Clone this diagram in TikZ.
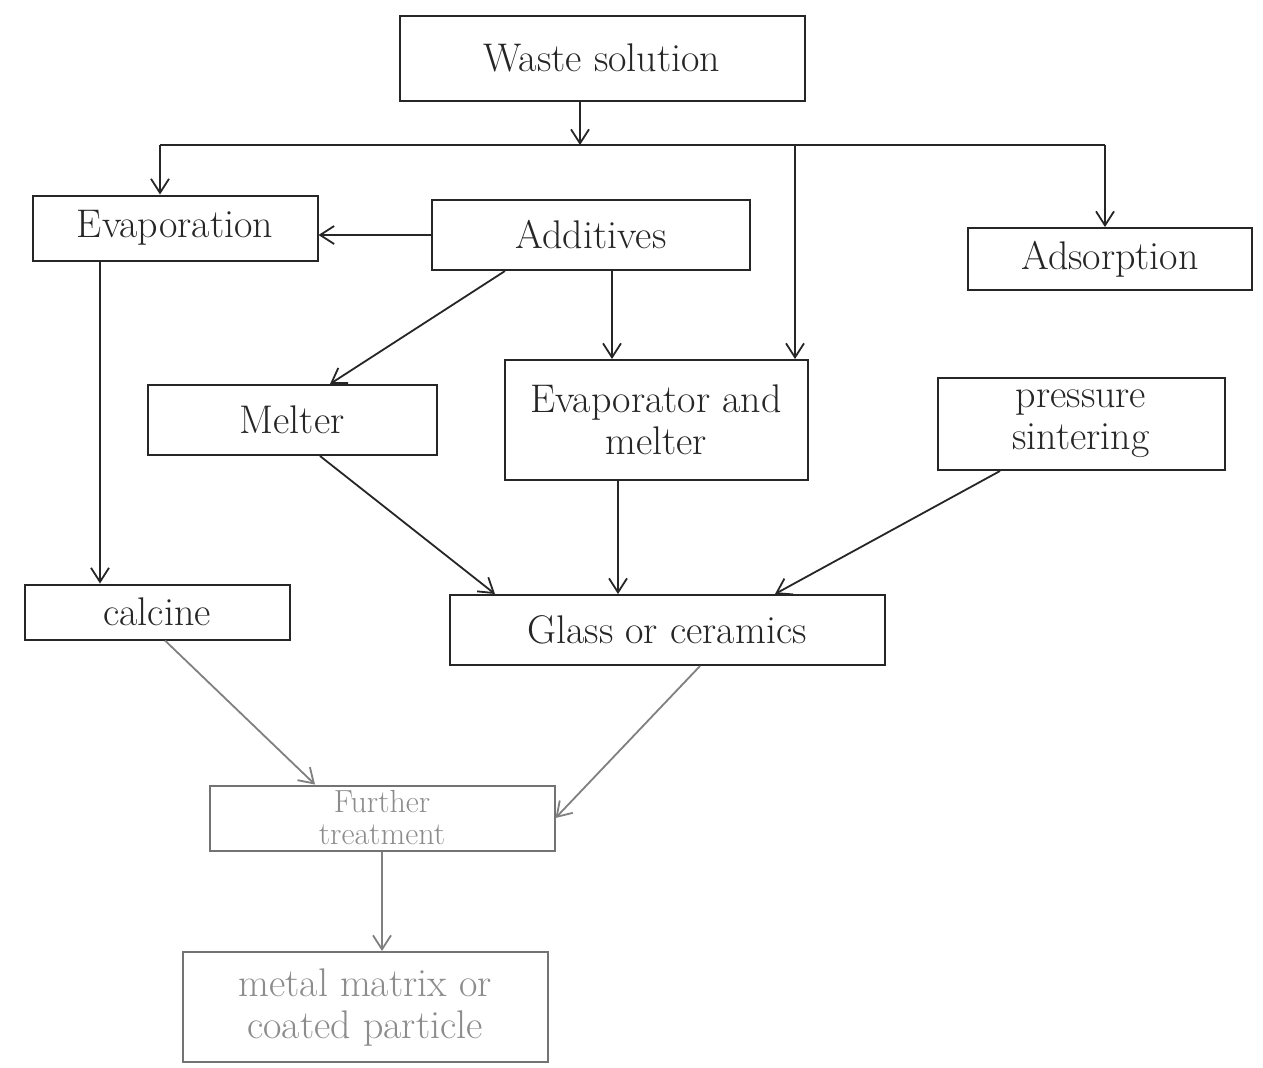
\documentclass[tikz,border=0pt]{standalone}
\usetikzlibrary{arrows.meta}
\begin{document}
\begin{tikzpicture}[x=0.5pt,y=-0.5pt,
  box/.style={draw=black!85, line width=1pt, inner sep=2pt, align=center, font=\fontsize{20}{21}\selectfont, text=black!85},
  faintbox/.style={box, draw=black!55, text=black!45},
  arr/.style={-{Straight Barb[length=7pt,width=9pt]}, line width=0.9pt, draw=black!85},
  faintarr/.style={arr, draw=black!50},
  ln/.style={line width=0.9pt, draw=black!85}]
\useasboundingbox[fill=white] (0,0) rectangle (1263,1067);

\node[box, minimum width=202.5pt, minimum height=42.5pt] (waste) at (602,58) {Waste solution};
\node[box, minimum width=142.5pt, minimum height=32.5pt] (evap) at (175,228) {Evaporation};
\node[box, minimum width=159pt, minimum height=35pt] (add) at (591,235) {Additives};
\node[box, minimum width=142pt, minimum height=31pt] (ads) at (1110,259) {Adsorption};
\node[box, minimum width=144.5pt, minimum height=35pt] (melter) at (292,420) {Melter};
\node[box, minimum width=151.5pt, minimum height=60pt] (evm) at (656,420) {Evaporator and\\melter};
\node[box, minimum width=143.5pt, minimum height=46pt] (press) at (1081,424) {pressure\\sintering};
\node[box, minimum width=132.5pt, minimum height=27.5pt] (calc) at (157,612) {calcine};
\node[box, minimum width=217.5pt, minimum height=35pt] (glass) at (667,630) {Glass or ceramics};
\node[faintbox, minimum width=172.5pt, minimum height=32.5pt, font=\fontsize{16}{16}\selectfont] (further) at (382,818) {Further\\treatment};
\node[faintbox, minimum width=182.5pt, minimum height=55pt] (metal) at (365,1007) {metal matrix or\\coated particle};

% bus from waste solution
\coordinate (j) at (580,145);
\coordinate (bl) at (160,145);
\coordinate (bm) at (795,145);
\coordinate (br) at (1105,145);
\draw[arr] (waste.south -| j) -- (j);
\draw[ln] (bl) -- (br);
\draw[arr] (bl) -- (bl |- evap.north);
\draw[arr] (br) -- (br |- ads.north);
\draw[arr] (bm) -- (bm |- evm.north);

% additives
\draw[arr] (add.west) -- (add.west -| evap.east);
\draw[arr] ([xshift=-43pt]add.south) -- ([xshift=19pt]melter.north);
\draw[arr] ([xshift=10.5pt]add.south) -- ([xshift=-22pt]evm.north);

% to calcine and glass
\draw[arr] ([xshift=-37.5pt]evap.south) -- ([xshift=-28.5pt]calc.north);
\draw[arr] ([xshift=14pt]melter.south) -- ([xshift=-86pt]glass.north);
\draw[arr] ([xshift=-19pt]evm.south) -- ([xshift=-24.5pt]glass.north);
\draw[arr] ([xshift=-40.5pt]press.south) -- ([xshift=54pt]glass.north);

% to further treatment
\draw[faintarr] ([xshift=4pt]calc.south) -- ([xshift=-33.5pt]further.north);
\draw[faintarr] ([xshift=16.5pt]glass.south) -- (further.east);
\draw[faintarr] (further.south) -- (further.south |- metal.north);
\end{tikzpicture}
\end{document}
